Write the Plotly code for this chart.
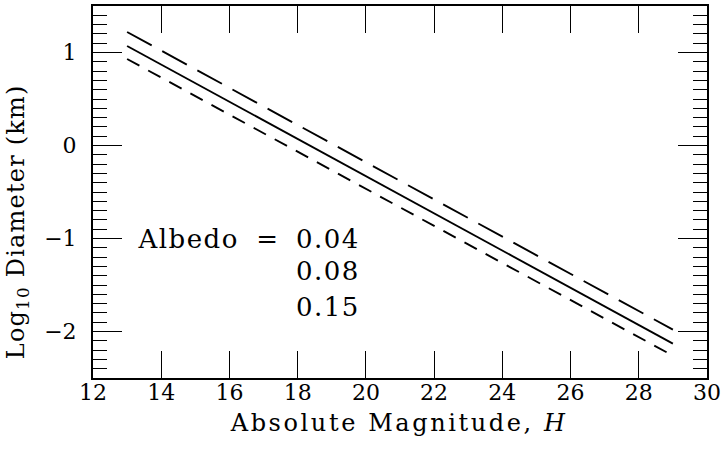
import plotly.graph_objects as go

H_ends = [13, 29]
logD_004 = [1.22, -1.98]
logD_008 = [1.07, -2.13]
logD_015 = [0.93, -2.26]
x_ticks = [12, 14, 16, 18, 20, 22, 24, 26, 28, 30]
y_ticks = [-2, -1, 0, 1]
y_ticklabels = ["\u22122", "\u22121", "0", "1"]
albedo_values = ["0.04", "0.08", "0.15"]
albedo_y = [-1.0, -1.35, -1.74]

FONT = "DejaVu Serif"
TXT = dict(family=FONT, size=26, color="black")
TITLE = dict(family=FONT, size=24, color="black")

fig = go.Figure()
fig.add_trace(go.Scatter(x=H_ends, y=logD_004, mode="lines",
                         line=dict(color="black", width=1.9, dash="28px,12px")))
fig.add_trace(go.Scatter(x=H_ends, y=logD_008, mode="lines",
                         line=dict(color="black", width=1.9)))
fig.add_trace(go.Scatter(x=H_ends, y=logD_015, mode="lines",
                         line=dict(color="black", width=1.9, dash="14px,10px")))

# axis titles (annotations 0 and 1)
fig.add_annotation(xref="paper", yref="paper", x=0.4987, y=-0.12,
                   text="Absolute Magnitude, <i>H</i>", showarrow=False,
                   xanchor="center", yanchor="middle", font=TITLE)
fig.add_annotation(xref="paper", yref="paper", x=-0.122, y=0.42,
                   text="Log<sub>10</sub> Diameter (km)", showarrow=False, textangle=-90,
                   xanchor="center", yanchor="middle", font=TITLE)
# albedo key
fig.add_annotation(x=14.785, y=albedo_y[0], text="Albedo", showarrow=False,
                   xanchor="center", yanchor="middle", font=TXT)
fig.add_annotation(x=17.13, y=albedo_y[0], text="=", showarrow=False,
                   xanchor="center", yanchor="middle", font=TXT)
for txt, yv in zip(albedo_values, albedo_y):
    fig.add_annotation(x=18.89, y=yv, text=txt, showarrow=False,
                       xanchor="center", yanchor="middle", font=TXT)

axis_common = dict(showline=True, linecolor="black", linewidth=2, mirror="allticks",
                   ticks="inside", tickcolor="black", tickwidth=1.3,
                   showgrid=False, zeroline=False, automargin=False,
                   tickfont=dict(family=FONT, size=22, color="black"))

fig.update_xaxes(range=[12, 30], tickvals=x_ticks, ticklen=27, ticklabelstandoff=-6,
                 **axis_common)
fig.update_yaxes(range=[-2.5, 1.5], tickvals=y_ticks, ticktext=y_ticklabels, ticklen=29,
                 ticklabelstandoff=10,
                 minor=dict(dtick=0.1, tick0=0, ticklen=14, ticks="inside",
                            tickcolor="black", tickwidth=1.3),
                 **axis_common)

fig.update_layout(width=723, height=450, showlegend=False,
                  plot_bgcolor="white", paper_bgcolor="white",
                  margin=dict(l=93, r=16, t=6, b=72))

post = """
document.body.style.margin='0';
var gd=document.getElementsByClassName('plotly-graph-div')[0];
var ann=gd.querySelectorAll('.annotation-text');
ann.forEach(function(e,i){e.style.letterSpacing=(i==0?'2.6px':(i==1?'1.2px':'1.5px'));});
"""

fig.write_html("out.html", post_script=post, config={"displayModeBar": False})
